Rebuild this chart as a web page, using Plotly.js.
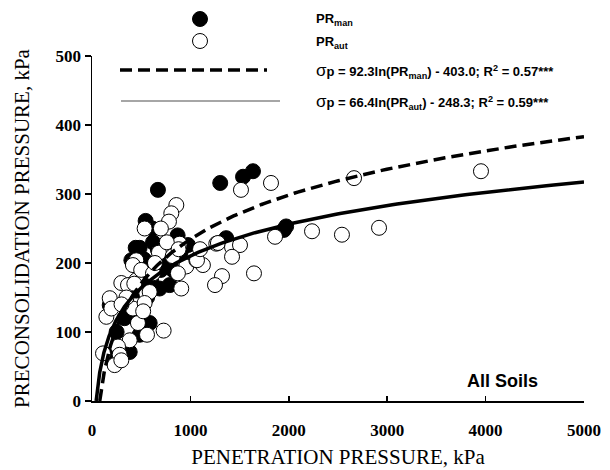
<!DOCTYPE html>
<html>
<head>
<meta charset="utf-8">
<script src="https://cdn.plot.ly/plotly-3.0.1.min.js"></script>
<style>html,body{margin:0;padding:0;background:#fff;}#chart{width:610px;height:470px;}</style>
</head>
<body>
<div id="chart"></div>
<script>
// Manual penetrometer (PR_man), kPa -> preconsolidation pressure, kPa
const manX = [670, 545, 613, 444, 484, 1303, 1535, 1636, 400, 586, 670, 755, 857, 975, 654, 789, 822, 687, 789, 586, 484, 383, 180, 214, 349, 281, 1364, 1973, 1950, 520, 600, 720, 700, 560, 450, 900, 250, 330, 420, 530, 620, 870];
const manY = [306, 261, 250, 222, 222, 316, 325, 333, 204, 197, 219, 226, 228, 226, 200, 204, 190, 163, 168, 113, 96, 71, 139, 69, 142, 59, 236, 253, 248, 180, 175, 210, 190, 150, 160, 215, 100, 120, 130, 205, 230, 240];
// Automatic penetrometer (PR_aut)
const autX = [857, 806, 782, 535, 450, 416, 298, 366, 450, 180, 146, 197, 416, 552, 586, 535, 467, 383, 559, 728, 264, 281, 230, 298, 112, 738, 891, 958, 873, 907, 1060, 1127, 1067, 1098, 1263, 1280, 1423, 1504, 1423, 1646, 1321, 1250, 1514, 1819, 1860, 2236, 2540, 2917, 2663, 3953, 500, 620, 680, 760, 820, 350, 300, 430, 640, 520, 700, 880];
const autY = [284, 272, 260, 250, 204, 197, 171, 168, 175, 149, 122, 134, 134, 156, 158, 142, 113, 88, 96, 102, 79, 67, 52, 59, 69, 219, 228, 195, 185, 163, 204, 197, 204, 220, 228, 229, 223, 226, 209, 185, 181, 168, 306, 316, 238, 246, 241, 251, 323, 333, 190, 185, 215, 230, 210, 150, 140, 170, 200, 130, 250, 220];
// Fitted equations: sigma_p = a*ln(PR) + b
const fitMan = [92.3, -403.0];
const fitAut = [66.4, -248.3];
const xMax = 5000;
const xTicks = [0, 1000, 2000, 3000, 4000, 5000];
const yTicks = [0, 100, 200, 300, 400, 500];

function fitCurve(c) {
  const x0 = Math.exp(-c[1] / c[0]);
  const xs = [], ys = [];
  for (let i = 0; i <= 300; i++) {
    const x = x0 * Math.pow(xMax / x0, i / 300);
    xs.push(x); ys.push(c[0] * Math.log(x) + c[1]);
  }
  return {xs, ys};
}
const cm = fitCurve(fitMan), ca = fitCurve(fitAut);

const traces = [
  {x: manX, y: manY, type: 'scatter', mode: 'markers', name: 'PR man',
   marker: {size: 15, color: '#000', line: {color: '#000', width: 1}}},
  {x: autX, y: autY, type: 'scatter', mode: 'markers', name: 'PR aut',
   marker: {size: 15, color: '#fff', line: {color: '#000', width: 1}}},
  {x: cm.xs, y: cm.ys, type: 'scatter', mode: 'lines', name: 'fit man',
   line: {color: '#000', width: 3.5, dash: '12px,6px'}},
  {x: ca.xs, y: ca.ys, type: 'scatter', mode: 'lines', name: 'fit aut',
   line: {color: '#000', width: 3.5}}
];

const L = 92, T = 56, W = 492, H = 345;
const px = v => (v - L) / W;
const py = v => (T + H - v) / H;
const sans = 'Liberation Sans, Arial, sans-serif';
const serif = 'Liberation Serif, Times New Roman, serif';

const layout = {
  width: 610, height: 470,
  margin: {l: L, r: 26, t: T, b: 69},
  paper_bgcolor: '#fff', plot_bgcolor: '#fff',
  showlegend: false,
  xaxis: {
    range: [0, 5000], tickvals: xTicks, ticktext: xTicks.map(String),
    showgrid: false, zeroline: false, showline: true, linecolor: '#000', linewidth: 1.5,
    ticks: 'inside', ticklen: 5, tickwidth: 1.5, tickcolor: '#000',
    ticklabelstandoff: 13,
    tickfont: {family: serif, size: 17, color: '#000', weight: 'bold'},
    title: {text: 'PENETRATION PRESSURE, kPa', font: {family: serif, size: 21, color: '#000'}, standoff: 10}
  },
  yaxis: {
    range: [0, 500], tickvals: yTicks, ticktext: yTicks.map(String),
    showgrid: false, zeroline: false, showline: true, linecolor: '#000', linewidth: 1.5,
    ticks: 'outside', ticklen: 6, tickwidth: 1.5, tickcolor: '#000',
    tickfont: {family: serif, size: 17, color: '#000', weight: 'bold'},
    title: {text: 'PRECONSOLIDATION PRESSURE, kPa', font: {family: serif, size: 21, color: '#000'}, standoff: 20}
  },
  shapes: [
    {type: 'circle', xref: 'paper', yref: 'paper', xsizemode: 'pixel', ysizemode: 'pixel',
     xanchor: px(200), yanchor: py(19), x0: -7.5, x1: 7.5, y0: -7.5, y1: 7.5,
     fillcolor: '#000', line: {color: '#000', width: 1}},
    {type: 'circle', xref: 'paper', yref: 'paper', xsizemode: 'pixel', ysizemode: 'pixel',
     xanchor: px(200), yanchor: py(41), x0: -7.5, x1: 7.5, y0: -7.5, y1: 7.5,
     fillcolor: '#fff', line: {color: '#000', width: 1}},
    {type: 'line', xref: 'paper', yref: 'paper', x0: px(120), x1: px(267), y0: py(70), y1: py(70),
     line: {color: '#000', width: 3.5, dash: '12px,6px'}},
    {type: 'line', xref: 'paper', yref: 'paper', x0: px(121), x1: px(280), y0: py(101), y1: py(101),
     line: {color: '#888', width: 1.5}}
  ],
  annotations: [
    {xref: 'paper', yref: 'paper', x: px(314), y: py(20), xanchor: 'left', yanchor: 'middle', showarrow: false,
     text: '<b>PR<sub>man</sub></b>', font: {family: sans, size: 13, color: '#000'}},
    {xref: 'paper', yref: 'paper', x: px(314), y: py(42), xanchor: 'left', yanchor: 'middle', showarrow: false,
     text: '<b>PR<sub>aut</sub></b>', font: {family: sans, size: 13, color: '#000'}},
    {xref: 'paper', yref: 'paper', x: px(314), y: py(71), xanchor: 'left', yanchor: 'middle', showarrow: false,
     text: '<span style="font-size:17px">σ</span><b>p = 92.3ln(PR<sub>man</sub>) - 403.0; R<sup>2</sup> = 0.57***</b>',
     font: {family: sans, size: 13, color: '#000'}},
    {xref: 'paper', yref: 'paper', x: px(314), y: py(102), xanchor: 'left', yanchor: 'middle', showarrow: false,
     text: '<span style="font-size:17px">σ</span><b>p = 66.4ln(PR<sub>aut</sub>) - 248.3; R<sup>2</sup> = 0.59***</b>',
     font: {family: sans, size: 13, color: '#000'}},
    {xref: 'paper', yref: 'paper', x: px(502), y: py(381), xanchor: 'center', yanchor: 'middle', showarrow: false,
     text: '<b>All Soils</b>', font: {family: sans, size: 18, color: '#000'}}
  ]
};

Plotly.newPlot('chart', traces, layout, {displayModeBar: false, staticPlot: true});
</script>
</body>
</html>
